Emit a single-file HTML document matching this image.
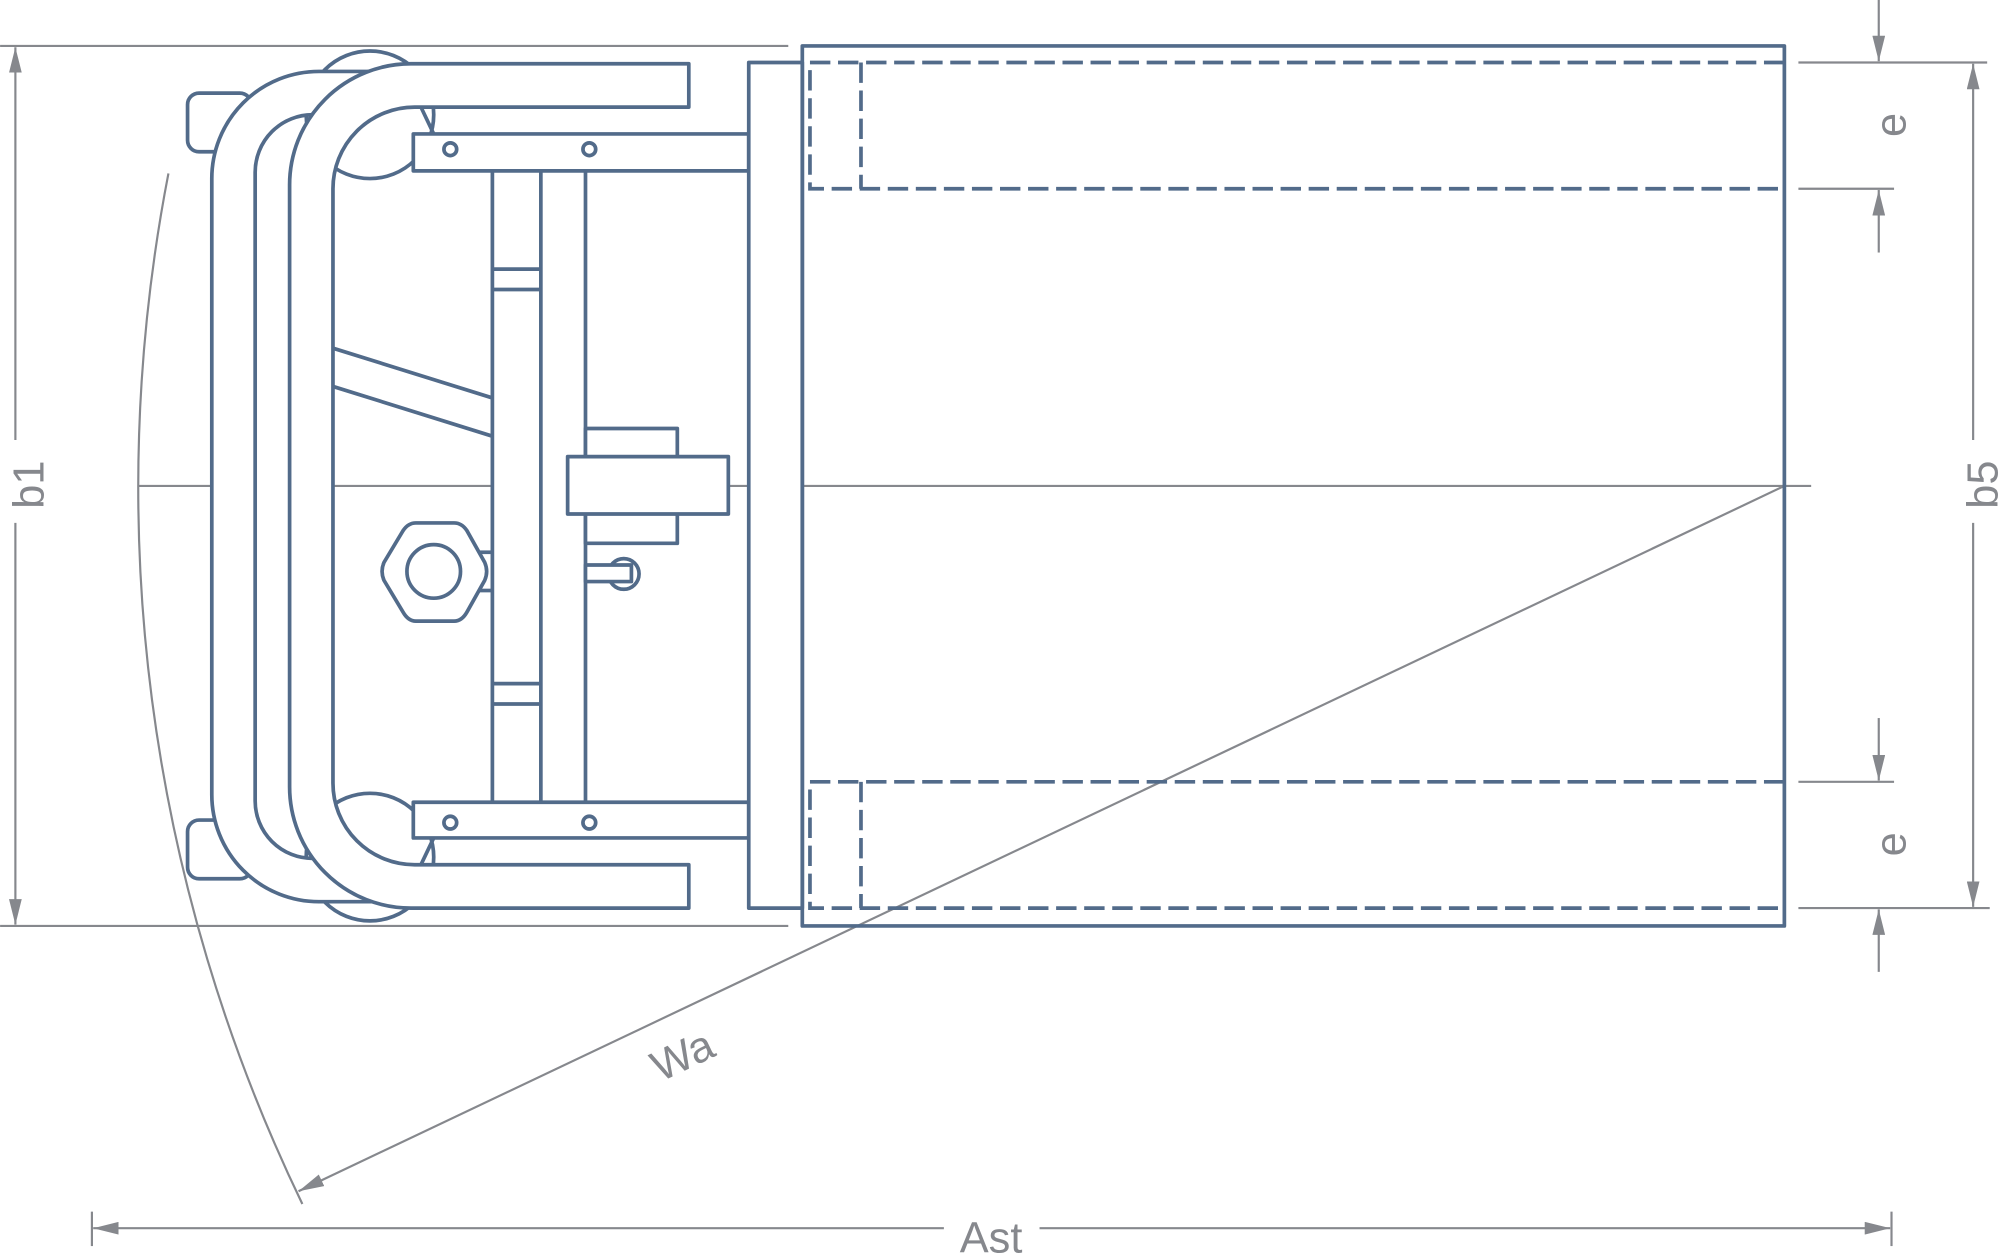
<!DOCTYPE html>
<html><head><meta charset="utf-8"><style>html,body{margin:0;padding:0;background:#fff}svg{display:block}</style></head>
<body>
<svg width="2000" height="1255" viewBox="0 0 1568 984" xmlns="http://www.w3.org/2000/svg">
<defs>
<marker id="ar" viewBox="0 0 20 10" refX="20" refY="5" markerWidth="20" markerHeight="10" markerUnits="userSpaceOnUse" orient="auto"><path d="M0,0 L20,5 L0,10 Z" fill="#86888d"/></marker>
</defs>
<g fill="none" stroke="#86888d" stroke-width="1.7">
<line x1="0" y1="36" x2="618" y2="36"/>
<line x1="0" y1="726" x2="618" y2="726"/>
<line x1="12" y1="345" x2="12" y2="37" marker-end="url(#ar)"/>
<line x1="12" y1="410" x2="12" y2="725" marker-end="url(#ar)"/>
<line x1="108" y1="381" x2="166" y2="381"/>
<line x1="261" y1="381" x2="386" y2="381"/>
<line x1="571" y1="381" x2="587" y2="381"/>
<line x1="629" y1="381" x2="1420" y2="381"/>
<path d="M132,136 A1291,1291 0 0 0 237,944"/>
<line x1="1399" y1="381" x2="234" y2="934" marker-end="url(#ar)"/>
<line x1="72" y1="950" x2="72" y2="977"/>
<line x1="1483" y1="950" x2="1483" y2="977"/>
<line x1="740" y1="963" x2="73" y2="963" marker-end="url(#ar)"/>
<line x1="815" y1="963" x2="1482" y2="963" marker-end="url(#ar)"/>
<line x1="1410" y1="49" x2="1558" y2="49"/>
<line x1="1410" y1="148" x2="1485" y2="148"/>
<line x1="1410" y1="613" x2="1485" y2="613"/>
<line x1="1410" y1="712" x2="1560" y2="712"/>
<line x1="1547" y1="345" x2="1547" y2="50" marker-end="url(#ar)"/>
<line x1="1547" y1="410" x2="1547" y2="711" marker-end="url(#ar)"/>
<line x1="1473" y1="0" x2="1473" y2="48" marker-end="url(#ar)"/>
<line x1="1473" y1="198" x2="1473" y2="149" marker-end="url(#ar)"/>
<line x1="1473" y1="563" x2="1473" y2="612" marker-end="url(#ar)"/>
<line x1="1473" y1="762" x2="1473" y2="713" marker-end="url(#ar)"/>
</g>
<g fill="#86888d" font-family="Liberation Sans, sans-serif" font-size="34">
<text x="777" y="982" text-anchor="middle">Ast</text>
<text transform="translate(34,380) rotate(-90)" text-anchor="middle">b1</text>
<text transform="translate(1566,380) rotate(-90)" text-anchor="middle">b5</text>
<text transform="translate(1494,98) rotate(-90)" text-anchor="middle">e</text>
<text transform="translate(1494,662) rotate(-90)" text-anchor="middle">e</text>
<text transform="translate(540,838) rotate(-25.4)" text-anchor="middle">Wa</text>
</g>
<g fill="none" stroke="#526b8a" stroke-width="2.9" stroke-linejoin="round">
<circle cx="290" cy="90" r="50"/>
<circle cx="290" cy="672" r="50"/>
<rect x="147" y="73" width="50" height="46" rx="9" fill="#fff"/>
<rect x="147" y="643" width="50" height="46" rx="9" fill="#fff"/>
<path fill="#fff" d="M300,56 L250,56 A84,84 0 0 0 166,140 L166,623 A84,84 0 0 0 250,707 L300,707 L300,673 L245,673 A45,45 0 0 1 200,628 L200,135 A45,45 0 0 1 245,90 L300,90 Z" stroke="none"/>
<path d="M300,56 L250,56 A84,84 0 0 0 166,140 L166,623 A84,84 0 0 0 250,707 L300,707"/>
<path d="M245,90 A45,45 0 0 0 200,135 L200,628 A45,45 0 0 0 245,673"/>
<path fill="#fff" d="M540,50 L322,50 A95,95 0 0 0 227,145 L227,617 A95,95 0 0 0 322,712 L540,712 L540,678 L325,678 A64,64 0 0 1 261,614 L261,148 A64,64 0 0 1 325,84 L540,84 Z"/>
<line x1="330" y1="84" x2="340" y2="105"/>
<line x1="330" y1="678" x2="340" y2="657"/>
<line x1="386" y1="134" x2="386" y2="629"/>
<line x1="424" y1="134" x2="424" y2="629"/>
<line x1="459" y1="134" x2="459" y2="629"/>
<line x1="386" y1="211" x2="424" y2="211"/>
<line x1="386" y1="227" x2="424" y2="227"/>
<line x1="386" y1="536" x2="424" y2="536"/>
<line x1="386" y1="552" x2="424" y2="552"/>
<line x1="261" y1="273" x2="386" y2="312"/>
<line x1="261" y1="303" x2="386" y2="342"/>
<rect x="324" y="105" width="263" height="29" fill="#fff"/>
<rect x="324" y="629" width="263" height="28" fill="#fff"/>
<circle cx="353" cy="117" r="5"/><circle cx="462" cy="117" r="5"/>
<circle cx="353" cy="645" r="5"/><circle cx="462" cy="645" r="5"/>
<line x1="374" y1="433" x2="386" y2="433"/>
<line x1="374" y1="463" x2="386" y2="463"/>
<path fill="#fff" d="M326,410 L356,410 Q362,410 366,416 L380,441 Q383,448 380,455 L366,480 Q362,487 356,487 L326,487 Q320,487 316,480 L301,455 Q298,448 301,441 L316,416 Q320,410 326,410 Z"/>
<circle cx="340" cy="448" r="21"/>
<rect x="459" y="336" width="72" height="90" fill="#fff"/>
<rect x="445" y="358" width="126" height="45" fill="#fff"/>
<circle cx="489" cy="450" r="12" fill="#fff"/>
<rect x="459" y="443" width="36" height="13" fill="#fff"/>
<rect x="587" y="49" width="42" height="663" fill="#fff"/>
<rect x="629" y="36" width="770" height="690"/>
</g>
<g fill="none" stroke="#526b8a" stroke-width="2.9" stroke-dasharray="16 6">
<path d="M1399,49 L635,49 L635,148 L1399,148"/>
<line x1="675" y1="49" x2="675" y2="148"/>
<path d="M1399,613 L635,613 L635,712 L1399,712"/>
<line x1="675" y1="613" x2="675" y2="712"/>
</g>
</svg>
</body></html>
